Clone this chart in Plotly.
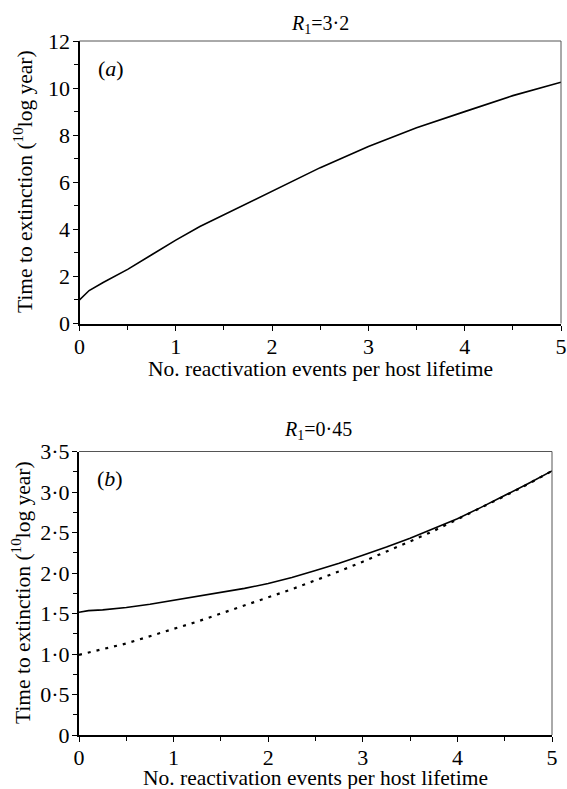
import plotly.graph_objects as go

# ---- data ----
x_a = [0, 0.1, 0.25, 0.5, 0.75, 1, 1.25, 1.5, 2, 2.5, 3, 3.5, 4, 4.5, 5]
y_a = [1.0, 1.4, 1.75, 2.3, 2.92, 3.54, 4.12, 4.62, 5.64, 6.62, 7.52, 8.32, 9.0, 9.68, 10.25]

x_b = [0, 0.1, 0.25, 0.5, 0.75, 1, 1.25, 1.5, 1.75, 2, 2.25, 2.5, 2.75, 3,
       3.25, 3.5, 3.75, 4, 4.25, 4.5, 4.75, 5]
y_b_solid = [1.515, 1.535, 1.545, 1.575, 1.615, 1.665, 1.71, 1.76, 1.81, 1.87,
             1.945, 2.03, 2.12, 2.22, 2.32, 2.43, 2.55, 2.67, 2.81, 2.955, 3.105, 3.26]
y_b_dotted = [0.99, 1.02, 1.06, 1.13, 1.22, 1.31, 1.40, 1.50, 1.60, 1.70,
              1.80, 1.91, 2.02, 2.14, 2.26, 2.39, 2.52, 2.66, 2.80, 2.95, 3.10, 3.26]

x_ticks = [0, 1, 2, 3, 4, 5]
x_ticktext = ["0", "1", "2", "3", "4", "5"]
ya_ticks = [0, 2, 4, 6, 8, 10, 12]
ya_ticktext = ["0", "2", "4", "6", "8", "10", "12"]
yb_ticks = [0, 0.5, 1.0, 1.5, 2.0, 2.5, 3.0, 3.5]
yb_ticktext = ["0", "0·5", "1·0", "1·5", "2·0", "2·5", "3·0", "3·5"]

title_a = "<i>R</i><sub>1</sub>=3·2"
title_b = "<i>R</i><sub>1</sub>=0·45"
xlab = "No. reactivation events per host lifetime"
ylab = "Time to extinction (<sup>10</sup>log year)"

FONT = "Liberation Serif"
FS = 22
FT = 21.5
W, H = 567, 789

def fx(px):
    return px / W

def fy(py):
    return 1 - py / H

fig = go.Figure()
fig.add_trace(go.Scatter(x=x_a, y=y_a, mode="lines", xaxis="x", yaxis="y",
                         line=dict(color="black", width=1.6), showlegend=False))
fig.add_trace(go.Scatter(x=x_b, y=y_b_solid, mode="lines", xaxis="x2", yaxis="y2",
                         line=dict(color="black", width=1.6), showlegend=False))
fig.add_trace(go.Scatter(x=x_b, y=y_b_dotted, mode="lines", xaxis="x2", yaxis="y2",
                         line=dict(color="black", width=2.2, dash="3px,6px"), showlegend=False))

common_axis = dict(showgrid=False, zeroline=False, showline=True, linecolor="black",
                   linewidth=2, ticks="outside", ticklen=5, tickwidth=1.2, tickcolor="black",
                   automargin=False, ticklabeloverflow="allow",
                   tickfont=dict(family=FONT, size=FS, color="black"))

xa_dom = [fx(79.5), fx(561)]
ya_dom = [fy(323.5), fy(41)]
xb_dom = [fx(79), fx(552)]
yb_dom = [fy(735), fy(451.5)]

fig.update_layout(
    width=W, height=H, margin=dict(l=0, r=0, t=0, b=0, autoexpand=False),
    paper_bgcolor="white", plot_bgcolor="white",
    font=dict(family=FONT, color="black", size=FS),
    xaxis=dict(domain=xa_dom, range=[0, 5], anchor="y", tickvals=x_ticks, ticktext=x_ticktext,
               minor=dict(dtick=0.5, ticks="outside", ticklen=4, tickcolor="black"),
               ticklabelstandoff=-3, **common_axis),
    yaxis=dict(domain=ya_dom, range=[0, 12], anchor="x", tickvals=ya_ticks, ticktext=ya_ticktext,
               minor=dict(dtick=1, ticks="outside", ticklen=4, tickcolor="black"),
               ticklabelstandoff=-2, **common_axis),
    xaxis2=dict(domain=xb_dom, range=[0, 5], anchor="y2", tickvals=x_ticks, ticktext=x_ticktext,
                minor=dict(dtick=0.5, ticks="outside", ticklen=4, tickcolor="black"),
                ticklabelstandoff=-3, **common_axis),
    yaxis2=dict(domain=yb_dom, range=[0, 3.5], anchor="x2", tickvals=yb_ticks, ticktext=yb_ticktext,
                minor=dict(dtick=0.25, ticks="outside", ticklen=4, tickcolor="black"),
                ticklabelstandoff=-2, **common_axis),
)

# thin frame lines on top and right
for xr, yr in (("x", "y"), ("x2", "y2")):
    fig.add_shape(type="line", xref=f"{xr} domain", yref=f"{yr} domain",
                  x0=0, x1=1, y0=1, y1=1, line=dict(color="#555555", width=1))
    fig.add_shape(type="line", xref=f"{xr} domain", yref=f"{yr} domain",
                  x0=1, x1=1, y0=0, y1=1, line=dict(color="#555555", width=1))

def ann(text, px, py, size=FS, angle=0, xanchor="center"):
    fig.add_annotation(text=text, xref="paper", yref="paper", x=fx(px), y=fy(py),
                       xanchor=xanchor, yanchor="middle", textangle=angle, showarrow=False,
                       font=dict(family=FONT, size=size, color="black"))

# subplot titles
ann(title_a, 320, 24, size=20)
ann(title_b, 318, 430, size=20)
# axis titles
ann(xlab, 320, 368.5, size=FT)
ann(xlab, 315.5, 778, size=FT)
ann(ylab, 23, 182, size=FT, angle=-90)
ann(ylab, 21, 593, size=FT, angle=-90)
# panel labels
ann("(<i>a</i>)", 96, 68, xanchor="left")
ann("(<i>b</i>)", 95, 478, xanchor="left")

# remove the default 8px page margin so the figure fills the window exactly
fig.write_html("out.html", config={"displayModeBar": False},
               post_script="document.body.style.margin='0px';")
